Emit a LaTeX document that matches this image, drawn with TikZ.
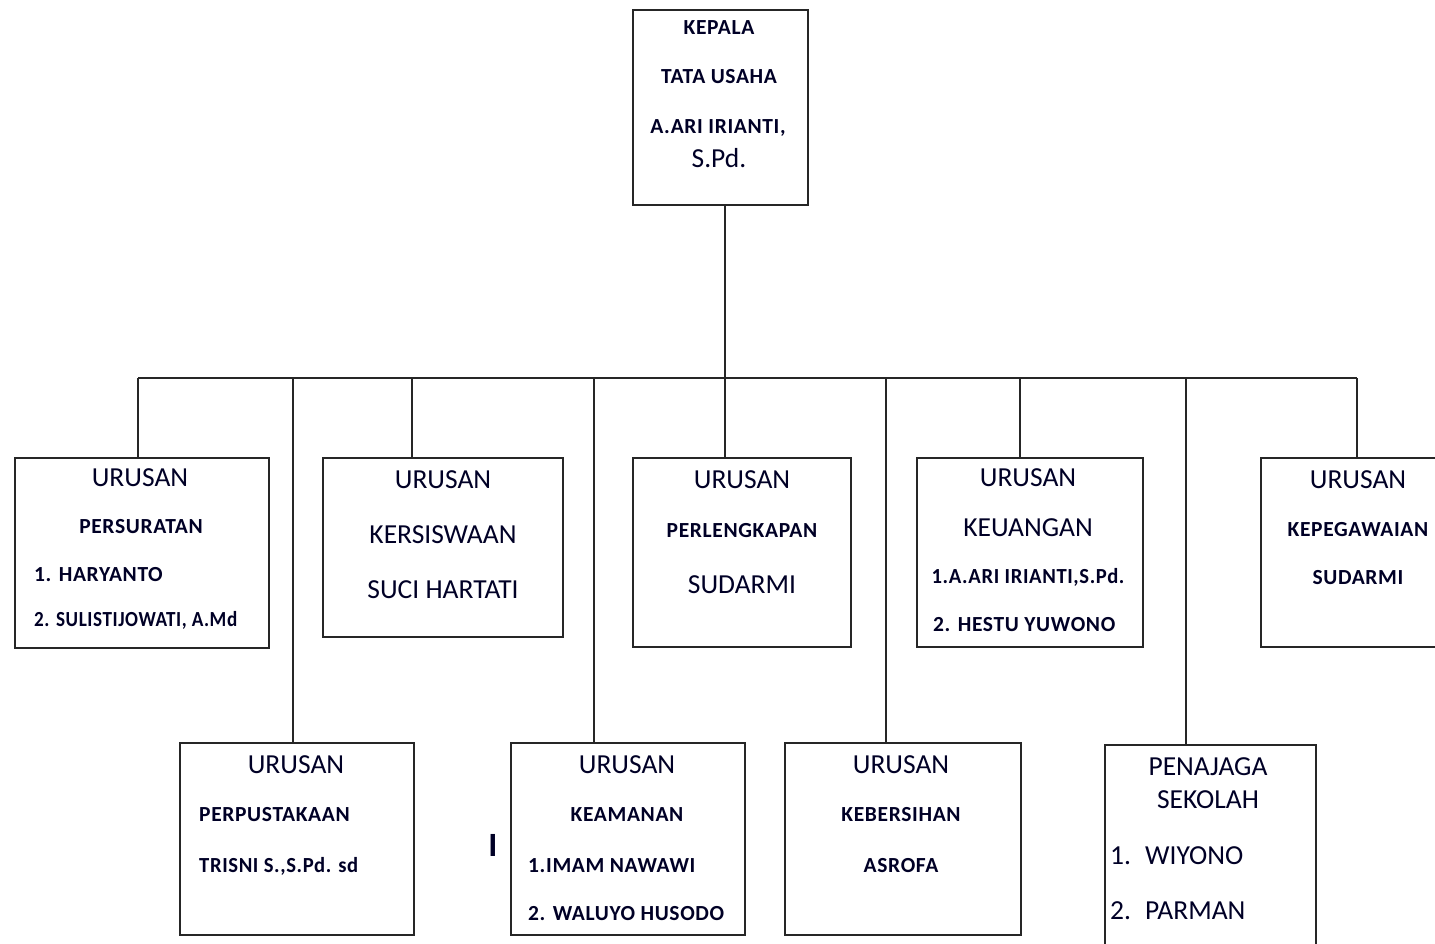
\documentclass[tikz,border=0pt]{standalone}
\usepackage{fontspec}
\setmainfont{Carlito}
\newfontfamily\smf{Carlito}[LetterSpace=3.0]
\begin{document}
\begin{tikzpicture}[x=1pt,y=-1pt,
  box/.style={draw=black!85,line width=2pt,fill=white,anchor=north west,inner sep=0pt},
  conn/.style={draw=black!85,line width=2pt},
  big/.style={inner sep=0pt,font=\fontsize{27.5}{30}\selectfont,text=black!85!blue},
  sm/.style={inner sep=0pt,font=\smf\bfseries\fontsize{21.5}{24}\selectfont,text=black!85!blue}]
\useasboundingbox (0,0) rectangle (1435,943);
\clip (0,0) rectangle (1435,943);
\fill[white] (0,0) rectangle (1435,943);
% boxes
\node[box,minimum width=175,minimum height=195] (top) at (632,9) {};
\node[box,minimum width=254,minimum height=190] (b1) at (14,457) {};
\node[box,minimum width=240,minimum height=179] (b2) at (322,457) {};
\node[box,minimum width=218,minimum height=189] (b3) at (632,457) {};
\node[box,minimum width=226,minimum height=189] (b4) at (916,457) {};
\node[box,minimum width=200,minimum height=189] (b5) at (1260,457) {};
\node[box,minimum width=234,minimum height=192] (b6) at (179,742) {};
\node[box,minimum width=234,minimum height=192] (b7) at (510,742) {};
\node[box,minimum width=236,minimum height=192] (b8) at (784,742) {};
\node[box,minimum width=211,minimum height=220] (b9) at (1104,744) {};
% bus
\coordinate (spine) at (725,378);
\coordinate (jL) at (138,378);
\coordinate (jR) at (1357,378);
\coordinate (j6) at (293,378);
\coordinate (j2) at (412,378);
\coordinate (j7) at (594,378);
\coordinate (j8) at (886,378);
\coordinate (j4) at (1020,378);
\coordinate (j9) at (1186,378);
\draw[conn] (top.south -| spine) -- (spine);
\draw[conn] (jL) -- (jR);
\draw[conn] (jL) -- (jL |- b1.north);
\draw[conn] (j6) -- (j6 |- b6.north);
\draw[conn] (j2) -- (j2 |- b2.north);
\draw[conn] (j7) -- (j7 |- b7.north);
\draw[conn] (spine) -- (spine |- b3.north);
\draw[conn] (j8) -- (j8 |- b8.north);
\draw[conn] (j4) -- (j4 |- b4.north);
\draw[conn] (j9) -- (j9 |- b9.north);
\draw[conn] (jR) -- (jR |- b5.north);
% top texts
\node[sm] (t1) at (719,28) {KEPALA};
\node[sm] (t2) at (719,77) {TATA USAHA};
\node[sm] (t3) at (718,128) {A.ARI IRIANTI,};
\node[big] (t4) at (719,158) {S.Pd.};
% b1
\node[big] (b1a) at (140,478) {URUSAN};
\node[sm] (b1b) at (141,527) {PERSURATAN};
\node[sm,anchor=west] (b1c) at (34,575) {1. HARYANTO};
\node[sm,anchor=west] (b1d) at (34,620) {\scalebox{0.89}[1]{2. SULISTIJOWATI, A.Md}};
% b2
\node[big] (b2a) at (443,480) {URUSAN};
\node[big] (b2b) at (443,535) {KERSISWAAN};
\node[big] (b2c) at (443,590) {SUCI HARTATI};
% b3
\node[big] (b3a) at (742,480) {URUSAN};
\node[sm] (b3b) at (742,531) {PERLENGKAPAN};
\node[big] (b3c) at (742,585) {SUDARMI};
% b4
\node[big] (b4a) at (1028,478) {URUSAN};
\node[big] (b4b) at (1028,528) {KEUANGAN};
\node[sm] (b4c) at (1028,577) {\scalebox{0.96}[1]{1.A.ARI IRIANTI,S.Pd.}};
\node[sm,anchor=west] (b4d) at (933,625) {2. HESTU YUWONO};
% b5
\node[big] (b5a) at (1358,480) {URUSAN};
\node[sm] (b5b) at (1358,530) {KEPEGAWAIAN};
\node[sm] (b5c) at (1358,578) {SUDARMI};
% b6
\node[big] (b6a) at (296,765) {URUSAN};
\node[sm,anchor=west] (b6b) at (199,815) {PERPUSTAKAAN};
\node[sm,anchor=west] (b6c) at (199,866) {\scalebox{0.96}[1]{TRISNI S.,S.Pd. sd}};
% b7
\node[big] (b7a) at (627,765) {URUSAN};
\node[sm] (b7b) at (627,815) {KEAMANAN};
\node[sm,anchor=west] (b7c) at (528,866) {1.IMAM NAWAWI};
\node[sm,anchor=west] (b7d) at (528,914) {2. WALUYO HUSODO};
\node[big,font=\bfseries\fontsize{34}{36}\selectfont] (stray) at (493,845) {I};
% b8
\node[big] (b8a) at (901,765) {URUSAN};
\node[sm] (b8b) at (901,815) {KEBERSIHAN};
\node[sm] (b8c) at (901,866) {ASROFA};
% b9
\node[big] (b9a) at (1208,767) {PENAJAGA};
\node[big] (b9b) at (1208,800) {SEKOLAH};
\node[big,anchor=west] (b9c) at (1110,856) {\makebox[35pt][l]{1.}WIYONO};
\node[big,anchor=west] (b9d) at (1110,911) {\makebox[35pt][l]{2.}PARMAN};
\end{tikzpicture}
\end{document}
